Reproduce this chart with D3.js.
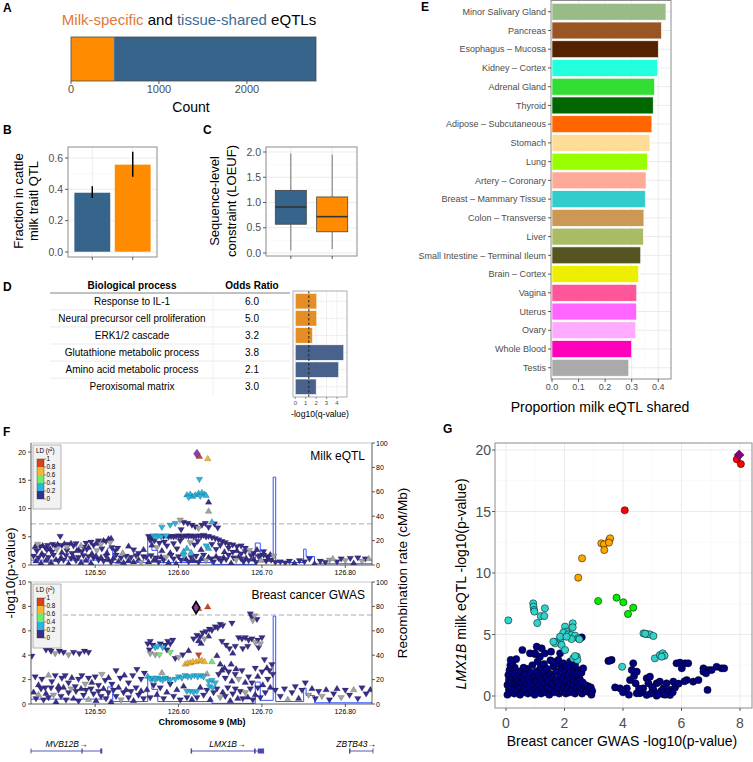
<!DOCTYPE html>
<html><head><meta charset="utf-8">
<script src="https://cdn.jsdelivr.net/npm/d3@7/dist/d3.min.js"></script>
<style>
html,body{margin:0;padding:0;background:#fff;}
svg{display:block;font-family:"Liberation Sans",Arial,Helvetica,sans-serif;}
</style></head><body>
<svg id="chart" width="753" height="762"></svg>
<script>
// ---------------- DATA ----------------
// A
const aGroups = ["Milk-specific", "tissue-shared"];
const aCounts = [490, 2295];
const aTicks = [0, 1000, 2000];
// B
const bGroups = ["tissue-shared", "Milk-specific"];
const bFraction = [0.38, 0.56];
const bLow = [0.345, 0.48];
const bHigh = [0.42, 0.64];
const bTicks = [0, 0.2, 0.4, 0.6];
// C (boxplot stats)
const cGroups = ["tissue-shared", "Milk-specific"];
const cMin = [0.05, 0.08];
const cQ1 = [0.57, 0.42];
const cMedian = [0.91, 0.72];
const cQ3 = [1.24, 1.11];
const cMax = [1.97, 1.95];
const cTicks = [0, 0.5, 1.0, 1.5, 2.0];
// D
const dProcesses = ["Response to IL-1", "Neural precursor cell proliferation", "ERK1/2 cascade",
  "Glutathione metabolic process", "Amino acid metabolic process", "Peroxisomal matrix"];
const dOddsRatio = ["6.0", "5.0", "3.2", "3.8", "2.1", "3.0"];
const dLogQ = [2.06, 2.06, 1.65, 4.65, 4.16, 2.0];
const dGroup = ["Milk-specific", "Milk-specific", "Milk-specific", "tissue-shared", "tissue-shared", "tissue-shared"];
const dThreshold = 1.3;
const dTicks = [0, 1, 2, 3, 4];
// E
const eTissues = ["Minor Salivary Gland", "Pancreas", "Esophagus – Mucosa", "Kidney – Cortex", "Adrenal Gland",
  "Thyroid", "Adipose – Subcutaneous", "Stomach", "Lung", "Artery – Coronary", "Breast – Mammary Tissue",
  "Colon – Transverse", "Liver", "Small Intestine – Terminal Ileum", "Brain – Cortex", "Vagina", "Uterus",
  "Ovary", "Whole Blood", "Testis"];
const eShared = [0.429, 0.412, 0.400, 0.398, 0.386, 0.381, 0.376, 0.369, 0.359, 0.354, 0.351, 0.346, 0.344,
  0.334, 0.326, 0.319, 0.318, 0.315, 0.300, 0.289];
const eTicks = [0, 0.1, 0.2, 0.3, 0.4];
const eTissueColors = ["#99BB88", "#995522", "#552200", "#22FFDD", "#33DD33", "#006600", "#FF6600", "#FFDD99",
  "#99FF00", "#FFAA99", "#33CCCC", "#CC9955", "#AABB66", "#555522", "#EEEE00", "#FF5599", "#FF66FF", "#FFAAFF",
  "#FF00BB", "#AAAAAA"];
// F  ([position Mb, -log10 p, LD class (0..4, 9 = no LD, 5 = lead), direction])
const fXTicks = [126.5, 126.6, 126.7, 126.8];
const fDomain = [126.423, 126.832];
const gwsThreshold = 7.3;
const ldBreaks = ["1", "0.8", "0.6", "0.4", "0.2", "0"];
const eqtlSnps = [
[126.622,19.7,5,0],[126.625,19.3,4,1],[126.635,18.9,3,1],[126.625,15.1,1,-1],
[126.610,12.5,1,1],[126.614,12.6,1,1],[126.617,12.2,1,1],[126.620,12.5,1,1],[126.624,12.8,1,1],[126.628,12.9,1,1],[126.631,12.6,1,1],[126.633,12.4,1,1],[126.612,11.9,1,-1],[126.626,12.1,1,-1],
[126.636,11.2,0,1],[126.636,9.6,9,1],
[126.580,6.6,1,-1],[126.590,7.0,1,-1],[126.596,7.3,1,-1],[126.602,7.9,9,-1],[126.606,7.5,0,-1],[126.611,7.3,0,-1],[126.616,7.0,0,-1],[126.620,6.7,0,-1],[126.624,6.4,9,-1],[126.628,7.0,0,-1],[126.632,7.3,0,-1],[126.636,6.6,0,-1],[126.640,7.7,1,1],[126.643,7.2,0,-1],[126.647,6.5,0,-1],[126.603,6.2,0,-1],
[126.564,5.0,0,-1],[126.567,4.8,0,-1],[126.570,5.1,1,-1],[126.573,4.9,1,-1],[126.576,5.1,1,-1],[126.579,4.9,1,-1],[126.582,5.0,0,-1],[126.585,5.1,1,-1],[126.588,4.9,0,-1],[126.591,5.0,0,-1],[126.594,4.9,0,-1],[126.597,5.0,0,-1],[126.600,5.1,0,-1],[126.603,4.9,0,-1],[126.606,5.0,0,-1],[126.609,5.1,0,-1],[126.612,5.0,0,-1],[126.615,5.1,0,-1],[126.618,4.9,0,-1],[126.621,5.0,0,-1],[126.624,5.1,0,-1],[126.627,5.0,0,-1],[126.630,5.2,0,-1],[126.633,4.9,0,-1],[126.636,5.0,0,-1],[126.640,4.8,0,-1],[126.644,4.6,0,-1],[126.648,4.4,0,-1],[126.652,4.1,0,-1],[126.656,3.9,0,-1],[126.660,3.6,0,-1],[126.665,3.5,0,-1],[126.670,3.2,0,-1],[126.675,3.3,0,-1],[126.680,2.9,0,-1],
[126.566,4.3,0,-1],[126.568,3.6,0,1],[126.571,4.2,0,-1],[126.574,3.0,9,-1],[126.577,3.8,0,-1],[126.580,2.6,0,1],[126.583,4.0,0,-1],[126.586,3.3,0,-1],[126.590,2.2,0,1],[126.594,3.7,0,-1],[126.598,2.8,0,-1],[126.602,4.2,0,-1],[126.606,2.5,1,1],[126.610,3.0,1,1],[126.614,3.9,9,-1],[126.615,2.3,1,1],[126.619,3.5,0,-1],[126.623,4.1,0,-1],[126.627,2.8,0,1],[126.633,3.3,1,-1],[126.636,3.0,1,1],[126.640,3.6,0,-1],[126.645,2.7,0,-1],[126.650,3.4,0,-1],[126.655,2.4,0,1],[126.660,2.9,0,-1],[126.665,2.2,0,-1],[126.670,2.6,0,1],[126.675,1.9,0,-1],[126.680,2.3,0,-1],[126.685,2.5,9,-1],[126.690,2.0,0,-1],[126.694,2.8,0,1],[126.698,1.6,0,-1],[126.702,2.3,0,-1],[126.706,1.4,0,-1],[126.710,1.9,0,1],
[126.428,3.3,0,1],[126.431,3.6,9,-1],[126.434,3.2,0,-1],[126.437,3.5,0,1],[126.440,3.0,0,-1],[126.443,3.4,0,-1],[126.446,2.9,0,1],[126.449,3.6,0,-1],[126.452,3.3,0,-1],[126.455,3.7,0,1],[126.458,5.0,0,-1],[126.460,3.4,0,-1],[126.463,3.8,0,1],[126.466,3.1,9,-1],[126.468,3.6,0,-1],[126.471,3.9,0,1],[126.474,3.3,0,-1],[126.477,3.7,0,-1],[126.480,2.8,0,1],[126.483,3.5,9,1],[126.486,3.1,0,-1],[126.489,3.8,0,-1],[126.492,3.2,0,1],[126.495,4.0,0,-1],[126.498,3.4,0,-1],[126.501,3.9,0,1],[126.504,4.2,0,-1],[126.507,3.6,9,-1],[126.510,4.4,0,1],[126.513,4.1,0,-1],[126.516,4.7,0,1],[126.519,4.8,0,1],[126.518,3.9,9,-1],
[126.430,2.4,0,-1],[126.436,2.1,0,1],[126.442,2.6,0,-1],[126.448,2.2,0,-1],[126.454,2.7,9,-1],[126.460,2.3,0,1],[126.466,2.5,0,-1],[126.472,2.0,0,-1],[126.478,2.6,0,1],[126.484,2.3,0,-1],[126.490,2.7,0,-1],[126.496,2.1,0,1],[126.502,2.5,9,-1],[126.508,2.8,0,-1],[126.514,2.2,0,1],[126.520,3.0,0,-1],[126.524,2.5,0,-1],
[126.527,2.9,0,-1],[126.533,2.2,9,1],[126.540,3.4,0,1],[126.546,2.6,0,-1],[126.552,2.0,0,-1],[126.558,2.8,0,1],
[126.426,1.5,0,-1],[126.429,0.8,0,1],[126.432,1.2,0,-1],[126.435,0.4,0,1],[126.438,1.6,0,-1],[126.441,0.9,0,1],[126.444,1.3,0,-1],[126.447,0.5,0,1],[126.450,1.7,0,-1],[126.453,1.0,0,1],[126.456,0.6,0,-1],[126.459,1.4,0,1],[126.462,0.8,0,-1],[126.465,1.6,0,-1],[126.468,0.3,0,1],[126.471,1.1,0,-1],[126.474,1.5,0,1],[126.477,0.7,0,-1],[126.480,1.3,0,-1],[126.483,0.5,0,1],[126.486,1.6,0,-1],[126.489,0.9,0,1],[126.492,1.4,0,-1],[126.495,0.4,0,1],[126.498,1.2,0,-1],[126.501,1.7,0,1],[126.504,0.8,0,-1],[126.507,1.4,0,1],[126.510,0.6,0,-1],[126.513,1.5,0,-1],[126.516,1.0,0,1],[126.519,0.4,0,-1],[126.522,1.3,0,1],[126.525,1.7,0,-1],[126.528,0.7,0,1],[126.531,1.2,0,-1],[126.534,0.5,0,1],[126.537,1.5,0,-1],[126.540,0.9,0,1],[126.543,1.3,0,-1],[126.546,0.6,0,1],[126.549,1.6,0,-1],[126.552,1.0,0,1],[126.555,0.4,9,-1],[126.558,1.4,0,-1],
[126.561,1.3,0,-1],[126.564,0.6,0,1],[126.567,1.6,0,-1],[126.570,0.9,0,1],[126.573,1.2,0,-1],[126.576,0.4,0,-1],[126.579,1.5,0,1],[126.582,0.8,0,-1],[126.585,1.3,9,-1],[126.588,0.5,0,1],[126.591,1.7,0,-1],[126.594,1.0,0,-1],[126.597,0.3,0,1],[126.600,1.4,0,-1],[126.603,0.8,0,-1],[126.606,1.6,1,-1],[126.609,1.1,0,1],[126.612,0.5,0,-1],[126.615,1.3,0,-1],[126.618,0.9,0,1],[126.621,1.5,0,-1],[126.624,0.4,0,-1],[126.627,1.2,0,1],[126.630,1.7,0,-1],[126.633,0.7,9,-1],[126.636,1.4,0,1],[126.639,1.0,0,-1],[126.642,0.5,0,-1],[126.645,1.6,0,1],[126.648,1.1,0,-1],[126.651,0.6,0,-1],[126.654,1.4,0,1],[126.657,0.9,0,-1],[126.660,1.7,0,-1],[126.663,0.4,0,1],[126.666,1.2,0,-1],[126.669,0.8,9,-1],[126.672,1.5,0,1],[126.675,1.0,0,-1],[126.678,0.5,0,-1],[126.681,1.3,0,1],[126.684,0.7,0,-1],[126.687,1.6,0,-1],[126.690,1.1,0,1],[126.693,0.4,0,-1],[126.696,1.4,0,-1],[126.699,0.9,9,1],[126.702,1.7,0,-1],[126.705,0.6,0,-1],[126.708,1.2,0,1],[126.711,0.8,0,-1],[126.714,1.5,9,-1],[126.716,0.4,0,-1],
[126.722,0.5,0,-1],[126.728,0.3,0,-1],[126.733,0.6,0,-1],[126.739,0.4,0,1],[126.745,0.7,0,-1],[126.751,0.5,0,-1],[126.757,1.0,0,-1],[126.763,0.3,0,1],[126.770,0.6,0,-1],[126.776,0.4,0,-1],[126.781,0.8,9,-1],[126.785,1.2,9,1],[126.790,0.5,0,-1],[126.795,1.0,0,-1],[126.800,0.7,9,-1],[126.806,1.1,0,-1],[126.810,0.4,0,1],[126.815,1.2,0,-1],[126.820,0.6,9,-1],[126.824,1.0,0,-1],[126.828,1.2,9,1]
];
const gwasSnps = [
[126.621,7.9,5,0],[126.624,7.85,4,1],[126.635,8.0,4,1],
[126.686,7.35,0,-1],[126.688,7.1,0,-1],[126.691,7.2,9,-1],[126.689,6.8,9,-1],[126.694,6.9,0,-1],[126.664,6.6,0,-1],
[126.618,5.3,0,-1],[126.622,5.6,0,-1],[126.626,5.5,0,-1],[126.629,5.8,0,-1],[126.633,5.9,0,-1],[126.637,6.1,0,-1],[126.640,6.0,0,-1],[126.644,6.3,0,-1],[126.647,6.2,0,-1],[126.650,6.5,0,-1],[126.653,6.4,0,-1],[126.631,5.3,9,-1],[126.627,5.0,0,1],[126.636,5.6,0,1],[126.624,5.2,0,1],
[126.652,5.1,0,-1],[126.657,4.8,0,-1],[126.661,4.5,0,-1],[126.665,4.2,0,1],[126.668,4.7,0,-1],[126.672,5.4,0,-1],[126.676,5.3,0,-1],[126.680,5.4,0,-1],[126.684,5.2,0,-1],[126.688,5.3,0,-1],[126.692,5.0,9,-1],[126.695,5.2,0,-1],[126.698,4.9,9,-1],[126.700,5.4,0,-1],[126.677,4.5,0,-1],[126.683,4.7,0,-1],[126.696,4.6,0,-1],
[126.563,4.9,0,-1],[126.566,5.1,0,-1],[126.569,4.8,0,-1],[126.572,4.6,1,-1],[126.575,4.7,1,-1],[126.578,4.9,0,-1],[126.581,4.6,1,-1],[126.584,4.8,0,-1],[126.587,5.1,0,-1],[126.590,4.9,0,-1],[126.593,5.2,0,-1],[126.565,4.4,0,-1],[126.586,4.4,0,-1],
[126.566,4.1,9,-1],[126.572,4.0,9,-1],[126.577,4.0,2,-1],[126.590,4.2,2,-1],[126.600,3.8,9,-1],[126.605,4.0,0,-1],[126.612,4.4,0,1],[126.596,3.7,0,-1],[126.624,4.0,4,-1],[126.640,3.5,2,1],[126.646,4.0,0,1],[126.650,3.3,0,1],
[126.608,3.3,3,1],[126.611,3.4,3,1],[126.614,3.4,3,1],[126.617,3.5,3,1],[126.621,3.5,3,1],[126.625,3.6,3,1],[126.628,3.6,3,1],[126.631,3.5,3,1],
[126.563,2.3,1,1],[126.566,2.0,1,-1],[126.569,2.1,1,-1],[126.572,1.9,1,-1],[126.575,2.1,1,-1],[126.578,2.0,1,-1],[126.581,1.9,1,-1],[126.584,2.1,1,-1],[126.587,2.0,1,-1],[126.590,1.9,1,-1],[126.596,2.0,1,-1],[126.600,2.2,1,-1],[126.604,2.1,1,-1],[126.608,2.3,1,-1],[126.611,2.2,1,-1],[126.615,2.2,1,-1],[126.619,2.3,1,-1],[126.623,2.2,1,-1],[126.627,2.3,1,-1],[126.630,2.2,1,-1],[126.636,1.8,1,-1],[126.640,1.9,1,-1],[126.644,1.7,1,-1],[126.637,1.4,1,-1],[126.641,1.3,1,-1],[126.610,1.0,1,-1],[126.614,1.0,1,-1],[126.618,0.9,1,-1],[126.622,1.0,1,-1],[126.580,2.6,9,1],[126.634,2.5,9,1],
[126.424,3.9,0,-1],[126.441,4.4,0,-1],[126.446,4.5,0,-1],[126.447,4.3,0,-1],[126.452,4.1,9,-1],[126.457,4.3,0,-1],[126.462,4.2,0,-1],[126.468,4.0,9,-1],[126.474,4.2,0,-1],[126.481,4.1,0,-1],[126.487,4.3,0,-1],[126.492,4.2,0,-1],
[126.428,2.2,0,-1],[126.432,1.6,0,1],[126.436,2.0,0,-1],[126.440,1.3,0,-1],[126.444,2.4,9,1],[126.448,1.8,0,-1],[126.452,2.3,0,-1],[126.456,1.5,0,1],[126.460,2.1,0,-1],[126.464,2.3,0,-1],[126.468,1.7,0,-1],[126.472,2.2,0,1],[126.476,1.4,0,-1],[126.480,2.0,0,-1],[126.484,2.3,0,-1],[126.488,1.6,9,-1],[126.492,2.1,0,-1],[126.496,1.8,0,1],[126.500,2.2,0,-1],[126.504,1.5,0,-1],[126.508,2.4,9,-1],[126.512,1.9,0,-1],[126.516,2.2,0,1],[126.520,1.6,0,-1],[126.525,2.7,0,-1],[126.530,2.1,0,-1],[126.535,2.4,0,1],[126.540,1.7,0,-1],[126.545,2.3,0,-1],[126.550,2.8,0,-1],[126.555,2.0,0,-1],[126.559,2.5,0,-1],
[126.426,1.0,0,1],[126.429,0.4,0,-1],[126.432,0.8,9,1],[126.435,1.2,0,-1],[126.438,0.3,0,-1],[126.441,0.9,0,1],[126.444,0.5,0,-1],[126.447,1.3,0,-1],[126.450,0.7,9,-1],[126.453,0.2,0,1],[126.456,1.1,0,-1],[126.459,0.6,0,-1],[126.462,1.4,0,1],[126.465,0.3,0,-1],[126.468,0.9,0,-1],[126.471,1.2,9,-1],[126.474,0.5,0,1],[126.477,1.0,0,-1],[126.480,0.2,0,-1],[126.483,1.3,0,1],[126.486,0.7,0,-1],[126.489,1.1,0,-1],[126.492,0.4,9,1],[126.495,1.2,0,-1],[126.498,0.8,0,-1],[126.501,0.3,0,1],[126.504,1.0,0,-1],[126.507,0.6,0,-1],[126.510,1.3,0,1],[126.513,0.4,0,-1],[126.516,0.9,0,-1],[126.519,0.2,0,1],[126.522,1.1,0,-1],[126.525,0.6,0,-1],[126.528,1.4,0,1],[126.531,0.3,9,-1],[126.534,0.9,0,-1],[126.537,1.2,0,1],[126.540,0.5,0,-1],[126.543,1.0,0,-1],[126.546,0.3,0,1],[126.549,1.3,0,-1],[126.552,0.7,0,-1],[126.555,1.1,0,1],[126.558,0.4,0,-1],
[126.562,1.2,0,1],[126.566,0.5,0,-1],[126.570,1.5,0,-1],[126.574,0.8,0,1],[126.578,1.3,0,-1],[126.582,0.4,0,-1],[126.586,1.0,0,1],[126.590,1.6,0,-1],[126.594,0.6,0,-1],[126.598,1.2,0,1],[126.602,0.3,0,-1],[126.606,1.5,0,1],[126.610,0.5,0,-1],[126.616,0.4,0,1],[126.622,0.5,0,-1],[126.626,1.4,0,1],[126.630,0.7,0,-1],[126.634,1.1,0,-1],[126.638,0.4,0,1],[126.642,0.9,0,-1],[126.646,1.2,0,-1],[126.650,0.5,9,-1],[126.653,1.0,0,1],[126.656,0.6,0,-1],[126.659,1.3,0,-1],[126.662,0.3,0,1],[126.665,0.8,0,-1],[126.668,1.2,0,-1],[126.671,0.5,0,1],[126.674,1.0,0,-1],[126.677,0.4,0,-1],[126.680,0.9,9,-1],[126.683,0.6,0,1],[126.686,1.2,0,-1],[126.689,0.3,0,-1],[126.692,0.8,0,1],[126.695,1.3,0,-1],[126.698,0.5,0,-1],[126.701,1.6,0,1],[126.704,0.9,0,-1],[126.707,2.0,0,-1],[126.710,1.4,0,1],[126.713,2.4,0,-1],[126.716,1.1,0,-1],[126.703,3.6,0,-1],[126.706,3.0,0,1],[126.709,2.7,0,-1],[126.712,3.2,0,-1],[126.700,2.6,0,-1],[126.695,2.3,0,1],
[126.648,2.4,0,-1],[126.652,2.8,0,1],[126.656,2.1,0,-1],[126.660,2.6,0,-1],[126.664,1.9,0,1],[126.668,2.4,0,-1],[126.672,2.0,9,-1],[126.676,2.7,0,-1],[126.680,1.8,0,1],[126.684,2.2,0,-1],[126.688,1.7,0,-1],[126.692,2.9,0,-1],[126.655,3.0,0,1],[126.663,3.3,0,1],[126.669,2.9,0,1],
[126.722,0.6,0,-1],[126.727,1.2,0,-1],[126.731,0.4,9,1],[126.736,0.9,0,-1],[126.740,1.4,0,-1],[126.744,0.5,0,1],[126.748,1.1,0,-1],[126.752,1.7,0,-1],[126.756,0.7,9,-1],[126.760,1.3,0,1],[126.764,0.4,0,-1],[126.768,1.0,0,-1],[126.772,0.6,9,-1],[126.777,1.2,0,1],[126.781,0.3,0,-1],[126.786,0.8,0,-1],[126.790,1.3,0,1],[126.795,0.5,9,-1],[126.800,1.1,0,-1],[126.805,0.7,0,-1],[126.810,1.2,9,1],[126.815,0.4,0,-1],[126.820,1.3,0,-1],[126.825,0.8,0,-1],[126.830,1.2,0,1]
];
const recombRate = [[126.423,4],[126.515,14],[126.521,2],[126.563,22],[126.568,12],[126.575,2],[126.640,0.5],
  [126.692,18],[126.698,3],[126.7135,72],[126.7165,2],[126.750,13],[126.753,7],[126.763,1],[126.832,1]];
const genes = [
  {name: "MVB12B", start: 126.423, end: 126.508, exons: [[126.4835, 126.4850], [126.5060, 126.5080]]},
  {name: "LMX1B", start: 126.615, end: 126.702, exons: [[126.6150, 126.6156], [126.6905, 126.6925], [126.6950, 126.7020]]},
  {name: "ZBTB43", start: 126.805, end: 126.834, exons: [[126.8050, 126.8056]]}
];
// G  ([breast cancer GWAS -log10 p, milk eQTL -log10 p])
const gXTicks = [0, 2, 4, 6, 8];
const gYTicks = [0, 5, 10, 15, 20];
const gLead = [[7.97, 19.6]];
const gRed = [[7.89, 19.24], [8.03, 18.86], [4.06, 15.1]];
const gOrange = [[3.26, 12.41], [3.35, 12.33], [3.53, 12.68], [3.56, 12.82], [3.52, 12.47], [3.36, 11.87], [2.60, 11.19], [2.47, 9.62]];
const gGreen = [[3.15, 7.72], [3.78, 7.99], [4.01, 7.62], [4.17, 6.67], [4.35, 7.18]];
const gCyan = [[0.08, 6.15], [0.93, 7.53], [0.94, 7.26], [0.96, 6.99], [0.97, 6.86], [1.33, 7.13], [1.19, 6.50], [1.31, 6.50], [1.07, 5.93],
  [2.02, 5.64], [2.28, 5.91], [2.28, 5.58], [2.07, 5.23], [1.96, 5.15], [2.13, 5.01], [2.24, 4.96], [2.36, 4.91], [2.47, 4.69], [2.24, 4.63],
  [1.85, 4.55], [1.73, 4.42], [1.68, 4.28], [1.90, 4.15], [2.02, 3.74], [1.62, 4.42], [1.85, 4.82], [2.07, 4.82], [2.51, 4.61],
  [2.30, 3.06], [2.42, 3.20], [2.44, 2.93], [2.36, 3.25], [4.70, 5.09], [4.81, 5.04], [4.92, 5.01], [5.04, 4.88], [4.76, 5.06],
  [5.09, 3.06], [5.26, 3.33], [5.36, 3.47], [5.42, 3.28], [5.32, 3.20], [3.97, 2.38]];
const gNavy = [[0.05,0.1],[0.1,0.5],[0.05,0.9],[0.1,1.3],[0.08,1.7],[0.12,2.1],[0.15,0.3],[0.2,0.8],[0.18,1.1],[0.22,1.5],[0.25,1.9],[0.28,0.2],[0.3,0.6],[0.32,1.0],[0.35,1.4],[0.3,2.3],[0.38,0.4],[0.42,0.9],[0.4,1.2],[0.45,1.7],[0.48,0.1],[0.5,0.7],[0.52,1.1],[0.55,1.5],[0.5,2.0],[0.58,0.3],[0.6,0.8],[0.62,1.3],[0.65,1.8],[0.68,0.5],[0.7,1.0],[0.72,2.2],[0.75,0.2],[0.78,1.4],[0.8,0.6],[0.82,1.1],[0.85,1.9],[0.88,0.3],[0.9,2.5],[0.92,0.9],[0.95,1.5],[0.98,0.1],[1.0,0.6],[1.02,1.2],[1.05,2.0],[1.08,2.8],[1.1,0.4],[1.12,1.6],[1.15,0.9],[1.18,2.3],[1.2,0.2],[1.22,1.3],[1.25,0.6],[1.28,1.9],[1.3,2.6],[1.32,1.0],[1.35,0.3],[1.38,1.5],[1.4,2.2],[1.42,0.7],[1.45,1.2],[1.48,0.1],[1.5,1.8],[1.52,2.9],[1.55,0.5],[1.58,1.0],[1.6,1.5],[1.62,2.4],[1.65,0.3],[1.68,0.8],[1.7,1.3],[1.72,2.0],[1.75,0.6],[1.78,1.1],[1.8,2.6],[1.82,0.2],[1.85,1.6],[1.88,0.9],[1.9,2.2],[1.92,0.4],[1.95,1.4],[1.98,0.7],[2.0,1.9],[2.02,2.5],[2.05,0.2],[2.08,1.2],[2.1,0.6],[2.12,1.7],[2.15,2.3],[2.18,0.3],[2.2,1.0],[2.22,1.5],[2.25,0.5],[2.28,2.0],[2.3,0.9],[2.33,1.3],[2.36,0.2],[2.4,1.7],[2.42,0.6],[2.45,1.1],[2.48,2.1],[2.5,0.4],[2.52,1.4],[2.55,0.8],[2.58,1.9],[2.6,0.2],[2.62,1.1],[2.65,0.6],[2.7,0.9],[2.75,0.4],[2.8,0.8],[2.85,0.3],[2.9,0.7],[2.95,0.4],[2.92,0.1],[0.15,2.5],[0.22,2.7],[0.6,2.3],[1.0,3.4],[0.35,3.0],
[0.16,2.93],[0.56,3.74],[1.05,4.01],[1.22,3.88],[0.99,3.47],[1.33,3.47],[1.54,3.60],[1.85,3.47],[1.16,3.20],[0.82,3.47],[1.60,2.79],[1.79,2.93],[1.96,2.66],[2.19,2.79],[2.07,2.38],[2.36,2.52],[2.59,4.77],[2.42,1.84],[2.64,2.25],
[3.50,2.85],[3.61,2.93],[3.55,2.88],[3.73,0.70],[3.90,0.62],[4.13,0.62],[4.24,1.30],[4.38,1.63],[4.43,1.03],[4.35,2.66],[4.30,2.11],[4.47,1.98],[4.58,0.22],[4.69,0.62],[4.81,1.44],[4.92,1.57],[4.87,1.03],[5.04,0.49],[5.15,1.03],[5.26,1.17],[5.38,0.62],[5.49,1.03],[5.61,0.49],[5.72,1.17],[5.83,2.66],[5.95,2.71],[6.01,2.25],[6.12,2.66],[6.23,2.66],[6.18,1.30],[6.40,1.17],[6.58,1.30],[6.75,2.25],[6.92,2.11],[6.89,0.49],[7.03,2.11],[7.20,2.38],[7.37,2.25],[7.46,2.25],[6.75,1.98],[6.84,1.84],[4.47,0.22],[4.81,0.08],[5.15,0.03],[5.38,0.14],[5.61,0.08],[5.55,0.35],[5.78,0.70],[4.0,0.3],[4.2,0.1],[4.65,0.35],[4.95,0.2],[5.3,0.4],[5.45,0.1],[5.7,0.3],[5.9,1.0],[6.1,1.2],[4.55,0.6],[5.0,0.7],[5.2,0.15]];

// ---------------- DRAWING ----------------
const svg = d3.select("#chart");
const TXT = "#4d4d4d", GMAJ = "#ebebeb", GMIN = "#f5f5f5", BORDER = "#8c8c8c";
const colMilk = "#FF8C00", colShared = "#36648B";

function txt(p, x, y, s, size, o = {}) {
  const t = p.append("text").attr("x", x).attr("y", y).attr("font-size", size).text(s);
  if (o.anchor) t.attr("text-anchor", o.anchor);
  t.attr("fill", o.fill || "#000");
  if (o.weight) t.attr("font-weight", o.weight);
  if (o.style) t.attr("font-style", o.style);
  return t;
}
function rtxt(p, cx, cy, s, size, o = {}) {
  return p.append("text").attr("transform", `translate(${cx},${cy}) rotate(-90)`).attr("text-anchor", "middle")
    .attr("font-size", size).attr("fill", o.fill || "#000").text(s);
}
function hl(p, x1, x2, y, c, w, dash) {
  const l = p.append("line").attr("x1", x1).attr("x2", x2).attr("y1", y).attr("y2", y).attr("stroke", c).attr("stroke-width", w);
  if (dash) l.attr("stroke-dasharray", dash);
  return l;
}
function vl(p, x, y1, y2, c, w, dash) {
  const l = p.append("line").attr("x1", x).attr("x2", x).attr("y1", y1).attr("y2", y2).attr("stroke", c).attr("stroke-width", w);
  if (dash) l.attr("stroke-dasharray", dash);
  return l;
}
function border(p, x0, y0, x1, y1, c = BORDER, w = 1) {
  p.append("rect").attr("x", x0).attr("y", y0).attr("width", x1 - x0).attr("height", y1 - y0)
    .attr("fill", "none").attr("stroke", c).attr("stroke-width", w);
}
function panelLabel(s, x, y) { txt(svg, x, y, s, 12, {weight: "bold"}); }

panelLabel("A", 3, 12); panelLabel("B", 3, 134); panelLabel("C", 203, 134);
panelLabel("D", 3, 291); panelLabel("E", 421, 11); panelLabel("F", 3, 436); panelLabel("G", 443, 433);

// ---- A ----
{
  const g = svg.append("g");
  const x = d3.scaleLinear().domain([0, 2785]).range([71, 316]);
  const t = g.append("text").attr("x", 189).attr("y", 25).attr("text-anchor", "middle").attr("font-size", 15);
  t.append("tspan").attr("fill", "#E07838").text("Milk-specific");
  t.append("tspan").attr("fill", "#000").text(" and ");
  t.append("tspan").attr("fill", "#3B6996").text("tissue-shared");
  t.append("tspan").attr("fill", "#000").text(" eQTLs");
  let cum = 0;
  aGroups.forEach((gr, i) => {
    g.append("rect").attr("x", x(cum)).attr("y", 37).attr("width", x(cum + aCounts[i]) - x(cum)).attr("height", 44)
      .attr("fill", i === 0 ? colMilk : colShared);
    cum += aCounts[i];
  });
  border(g, x(0), 37, x(cum), 81, "#4a4a4a", 0.8);
  aTicks.forEach(v => { vl(g, x(v), 81, 84, "#333", 0.8); txt(g, x(v), 93, d3.format("d")(v), 11, {anchor: "middle", fill: TXT}); });
  txt(g, 191, 112, "Count", 14, {anchor: "middle"});
}

// ---- B ----
{
  const g = svg.append("g");
  const X0 = 68, X1 = 157, Y0 = 147, Y1 = 257;
  const x = d3.scaleBand().domain(bGroups).range([X0, X1]).paddingInner(0.1).paddingOuter(0.15);
  const y = d3.scaleLinear().domain([0, 0.6]).range([252, 158]);
  [0.1, 0.3, 0.5].forEach(v => hl(g, X0, X1, y(v), GMIN, 0.6));
  bTicks.forEach(v => hl(g, X0, X1, y(v), GMAJ, 1));
  bGroups.forEach(gr => vl(g, x(gr) + x.bandwidth() / 2, Y0, Y1, GMAJ, 1));
  bGroups.forEach((gr, i) => {
    g.append("rect").attr("x", x(gr)).attr("y", y(bFraction[i])).attr("width", x.bandwidth())
      .attr("height", y(0) - y(bFraction[i])).attr("fill", i === 0 ? colShared : colMilk).attr("stroke", "#fff").attr("stroke-width", 0.5);
    vl(g, x(gr) + x.bandwidth() / 2, y(bHigh[i]), y(bLow[i]), "#000", 1.5);
  });
  border(g, X0, Y0, X1, Y1);
  bTicks.forEach(v => { hl(g, X0 - 3, X0, y(v), "#333", 0.8); txt(g, X0 - 5, y(v) + 3.7, d3.format(".1f")(v), 10.5, {anchor: "end", fill: TXT}); });
  bGroups.forEach(gr => vl(g, x(gr) + x.bandwidth() / 2, Y1, Y1 + 3, "#333", 0.8));
  rtxt(g, 22.5, 201, "Fraction in cattle", 13);
  rtxt(g, 37.5, 201, "milk traitl QTL", 13);
}

// ---- C ----
{
  const g = svg.append("g");
  const X0 = 266, X1 = 357, Y0 = 147, Y1 = 256;
  const x = d3.scaleBand().domain(cGroups).range([X0, X1]).paddingInner(0.1).paddingOuter(0.15);
  const y = d3.scaleLinear().domain([0, 2]).range([253, 152]);
  [0.25, 0.75, 1.25, 1.75].forEach(v => hl(g, X0, X1, y(v), GMIN, 0.6));
  cTicks.forEach(v => hl(g, X0, X1, y(v), GMAJ, 1));
  cGroups.forEach(gr => vl(g, x(gr) + x.bandwidth() / 2, Y0, Y1, GMAJ, 1));
  const step = x.step();
  cGroups.forEach((gr, i) => {
    const cx = x(gr) + x.bandwidth() / 2, w = step * 0.75;
    vl(g, cx, y(cMax[i]), y(cQ3[i]), "#555", 0.8);
    vl(g, cx, y(cQ1[i]), y(cMin[i]), "#555", 0.8);
    g.append("rect").attr("x", cx - w / 2).attr("y", y(cQ3[i])).attr("width", w).attr("height", y(cQ1[i]) - y(cQ3[i]))
      .attr("fill", i === 0 ? colShared : colMilk).attr("stroke", "#444").attr("stroke-width", 0.8);
    hl(g, cx - w / 2, cx + w / 2, y(cMedian[i]), "#333", 1.6);
  });
  border(g, X0, Y0, X1, Y1);
  cTicks.forEach(v => { hl(g, X0 - 3, X0, y(v), "#333", 0.8); txt(g, X0 - 5, y(v) + 3.7, d3.format(".1f")(v), 10.5, {anchor: "end", fill: TXT}); });
  cGroups.forEach(gr => vl(g, x(gr) + x.bandwidth() / 2, Y1, Y1 + 3, "#333", 0.8));
  rtxt(g, 218.5, 201, "Sequence-level", 13);
  rtxt(g, 235.5, 201, "constraint (LOEUF)", 13);
}

// ---- D ----
{
  const g = svg.append("g");
  const X0 = 293, X1 = 347, Y0 = 291, Y1 = 397;
  const yb = d3.scaleBand().domain(dProcesses).range([Y0, Y1]).paddingInner(0.1).paddingOuter(0.15);
  const x = d3.scaleLinear().domain([0, 4.65]).range([295.3, 343.7]);
  // table
  txt(g, 132, 289, "Biological process", 10, {anchor: "middle", weight: "bold"});
  txt(g, 252, 289, "Odds Ratio", 10, {anchor: "middle", weight: "bold"});
  hl(g, 50, 290, 293, "#666", 0.8);
  vl(g, 213, 294, 395, "#eeeeee", 0.8);
  dProcesses.forEach((p, i) => {
    const cy = yb(p) + yb.bandwidth() / 2;
    txt(g, 132, cy + 3.5, p, 10, {anchor: "middle"});
    txt(g, 252, cy + 3.5, dOddsRatio[i], 10, {anchor: "middle"});
    if (i > 0) hl(g, 50, 290, yb(p) - yb.step() * 0.05, "#e2e2e2", 0.7);
  });
  // bars
  [0.5, 1.5, 2.5, 3.5, 4.5].forEach(v => vl(g, x(v), Y0, Y1, GMIN, 0.5));
  dTicks.forEach(v => vl(g, x(v), Y0, Y1, GMAJ, 0.8));
  dProcesses.forEach(p => hl(g, X0, X1, yb(p) + yb.bandwidth() / 2, GMAJ, 0.8));
  dProcesses.forEach((p, i) => {
    g.append("rect").attr("x", x(0)).attr("y", yb(p)).attr("width", x(dLogQ[i]) - x(0)).attr("height", yb.bandwidth())
      .attr("fill", dGroup[i] === "Milk-specific" ? "#E58E26" : "#48628C").attr("stroke", "#fff").attr("stroke-width", 0.5);
  });
  vl(g, x(dThreshold), Y0, Y1, "#222", 1, "2.5,2");
  border(g, X0, Y0, X1, Y1, "#9a9a9a", 0.8);
  dTicks.forEach(v => { vl(g, x(v), Y1, Y1 + 2, "#555", 0.6); txt(g, x(v), Y1 + 7.5, String(v), 6, {anchor: "middle", fill: TXT}); });
  txt(g, 320, 417, "-log10(q-value)", 8.6, {anchor: "middle"});
}

// ---- E ----
{
  const g = svg.append("g");
  const X0 = 551, X1 = 671, Y0 = 0.5, Y1 = 379;
  const y = d3.scaleBand().domain(eTissues).range([Y0, Y1]).paddingInner(0.1).paddingOuter(0.15);
  const x = d3.scaleLinear().domain([0, 0.448]).range([552, X1]);
  const color = d3.scaleOrdinal().domain(eTissues).range(eTissueColors);
  [0.05, 0.15, 0.25, 0.35].forEach(v => vl(g, x(v), Y0, Y1, GMIN, 0.6));
  eTicks.forEach(v => vl(g, x(v), Y0, Y1, GMAJ, 1));
  eTissues.forEach(t => hl(g, X0, X1, y(t) + y.bandwidth() / 2, GMAJ, 1));
  eTissues.forEach((t, i) => {
    g.append("rect").attr("x", x(0)).attr("y", y(t)).attr("width", x(eShared[i]) - x(0)).attr("height", y.bandwidth())
      .attr("fill", color(t)).attr("stroke", "#fff").attr("stroke-width", 0.6);
  });
  border(g, X0, Y0, X1, Y1);
  eTissues.forEach(t => {
    const cy = y(t) + y.bandwidth() / 2;
    hl(g, X0 - 3, X0, cy, "#333", 0.8);
    txt(g, X0 - 5, cy + 3.2, t, 9, {anchor: "end", fill: TXT});
  });
  eTicks.forEach(v => { vl(g, x(v), Y1, Y1 + 3, "#333", 0.8); txt(g, x(v), 390, d3.format(".1f")(v), 9, {anchor: "middle", fill: TXT}); });
  txt(g, 600, 412, "Proportion milk eQTL shared", 14, {anchor: "middle"});
}

// ---- F ----
const LD_COLORS = ["#382e8c", "#28b6e0", "#69ee69", "#f6b72d", "#d9431b"];
const LD_GRAY = "#a3a3a3", LEAD_COLOR = "#8b3fa9";
const fx = d3.scaleLinear().domain(fDomain).range([31, 372]);
function drawLocus(Y0, Y1, yMax, yTicks, snps, title, leadBig) {
  const g = svg.append("g");
  const y = d3.scaleLinear().domain([0, yMax]).range([Y1, Y0]);
  const r = d3.scaleLinear().domain([0, 100]).range([Y1, Y0]);
  const id = "clip" + Y0;
  svg.append("clipPath").attr("id", id).append("rect").attr("x", 31).attr("y", Y0).attr("width", 341).attr("height", Y1 - Y0);
  const inner = g.append("g").attr("clip-path", `url(#${id})`);
  hl(inner, 31, 372, y(gwsThreshold), "#c8c8c8", 1.5, "5,3");
  inner.append("path").datum(recombRate)
    .attr("d", d3.line().x(d => fx(d[0])).y(d => r(d[1])).curve(d3.curveStepAfter))
    .attr("fill", "none").attr("stroke", "#3355ff").attr("stroke-width", 1);
  const order = c => (c === 9 ? 0.5 : c);
  const pts = snps.filter(d => d[2] !== 5).sort((a, b) => order(a[2]) - order(b[2]));
  const up = "M0,-3L3.3,2.5L-3.3,2.5Z", down = "M0,3L3.3,-2.5L-3.3,-2.5Z";
  inner.selectAll("path.snp").data(pts).enter().append("path").attr("class", "snp")
    .attr("transform", d => `translate(${fx(d[0])},${y(d[1])})`)
    .attr("d", d => d[3] > 0 ? up : down)
    .attr("fill", d => d[2] === 9 ? LD_GRAY : LD_COLORS[d[2]])
    .attr("stroke", "rgba(0,0,0,0.45)").attr("stroke-width", 0.4);
  snps.filter(d => d[2] === 5).forEach(d => {
    const p = leadBig ? "M0,-6L3.6,0L0,6L-3.6,0Z" : "M0,-4.5L3.2,0L0,4.5L-3.2,0Z";
    inner.append("path").attr("transform", `translate(${fx(d[0])},${y(d[1])})`).attr("d", p)
      .attr("fill", LEAD_COLOR).attr("stroke", leadBig ? "#000" : "#5a2a70").attr("stroke-width", leadBig ? 1.6 : 0.5);
  });
  // frame and axes
  hl(g, 31, 372, Y0, "#bbb", 0.8);
  hl(g, 31, 372, Y1, "#333", 0.8);
  vl(g, 31, Y0, Y1, "#333", 0.8);
  vl(g, 372, Y0, Y1, "#333", 0.8);
  yTicks.forEach(v => { hl(g, 28, 31, y(v), "#333", 0.8); txt(g, 26, y(v) + 2.5, String(v), 7, {anchor: "end"}); });
  [0, 20, 40, 60, 80, 100].forEach(v => { hl(g, 372, 375, r(v), "#333", 0.8); txt(g, 376, r(v) + 2.5, String(v), 7); });
  fXTicks.forEach(v => { vl(g, fx(v), Y1, Y1 + 3, "#333", 0.8); txt(g, fx(v), Y1 + 9.5, d3.format(".2f")(v), 7, {anchor: "middle"}); });
  txt(g, 365, Y0 + 17, title, 12, {anchor: "end"});
  // LD legend
  const lg = g.append("g");
  lg.append("rect").attr("x", 33).attr("y", Y0 + 2).attr("width", 28).attr("height", 64).attr("fill", "#f2f2f2").attr("stroke", "#888").attr("stroke-width", 0.6);
  const lt = lg.append("text").attr("x", 36).attr("y", Y0 + 10).attr("font-size", 6.3);
  lt.append("tspan").text("LD (r");
  lt.append("tspan").attr("font-size", 4.5).attr("dy", -2).text("2");
  lt.append("tspan").attr("dy", 2).text(")");
  const top = Y0 + 16, segH = 8;
  LD_COLORS.slice().reverse().forEach((c, i) => {
    lg.append("rect").attr("x", 37).attr("y", top + i * segH).attr("width", 7).attr("height", segH).attr("fill", c);
  });
  lg.append("rect").attr("x", 37).attr("y", top).attr("width", 7).attr("height", segH * 5).attr("fill", "none").attr("stroke", "#333").attr("stroke-width", 0.4);
  ldBreaks.forEach((b, i) => {
    hl(lg, 44, 46, top + i * segH, "#333", 0.5);
    txt(lg, 46.5, top + i * segH + 2.3, b, 6.3);
  });
}
drawLocus(443, 565, 21.6, [0, 5, 10, 15, 20], eqtlSnps, "Milk eQTL", false);
drawLocus(582, 704, 10, [0, 2, 4, 6, 8, 10], gwasSnps, "Breast cancer GWAS", true);
rtxt(svg, 15, 573, "-log10(p-value)", 13.5);
rtxt(svg, 407, 573, "Recombination rate (cM/Mb)", 13.5);
txt(svg, 202, 725, "Chromosome 9 (Mb)", 9, {anchor: "middle", weight: "bold"});
{
  const g = svg.append("g");
  const GC = "#4747b0", gy = 751;
  genes.forEach(gn => {
    const s = Math.max(fx(gn.start), 31), e = Math.min(fx(gn.end), 373);
    hl(g, s, e, gy, GC, 0.9);
    vl(g, s, gy - 2.5, gy + 2.5, GC, 0.9);
    vl(g, e, gy - 2.5, gy + 2.5, GC, 0.9);
    gn.exons.forEach(ex => {
      const a = fx(ex[0]), b = Math.min(fx(ex[1]), 373);
      g.append("rect").attr("x", a).attr("y", gy - 2.5).attr("width", Math.max(b - a, 1)).attr("height", 5).attr("fill", GC);
    });
    let cx = (s + e) / 2;
    const lbl = txt(g, cx, 747, gn.name + "→", 8.5, {anchor: "middle", style: "italic"});
    const w = lbl.node().getComputedTextLength();
    if (cx + w / 2 > 376) lbl.attr("x", 376 - w / 2);
  });
}

// ---- G ----
{
  const g = svg.append("g");
  const X0 = 495, X1 = 752, Y0 = 443, Y1 = 708;
  const x = d3.scaleLinear().domain([0, 8]).range([506, 740]);
  const y = d3.scaleLinear().domain([0, 20]).range([696, 450]);
  [1, 3, 5, 7].forEach(v => vl(g, x(v), Y0, Y1, GMIN, 0.6));
  [2.5, 7.5, 12.5, 17.5].forEach(v => hl(g, X0, X1, y(v), GMIN, 0.6));
  gXTicks.forEach(v => vl(g, x(v), Y0, Y1, GMAJ, 1));
  gYTicks.forEach(v => hl(g, X0, X1, y(v), GMAJ, 1));
  const groups = [[gNavy, "#000080"], [gCyan, "#2FD3CB"], [gGreen, "#00EE00"], [gOrange, "#FFA500"], [gRed, "#FF0000"]];
  groups.forEach(([arr, col]) => {
    g.append("g").selectAll("circle").data(arr).enter().append("circle")
      .attr("cx", d => x(d[0])).attr("cy", d => y(d[1])).attr("r", 3.6)
      .attr("fill", col).attr("stroke", "#000").attr("stroke-width", 0.5);
  });
  gLead.forEach(d => g.append("path").attr("transform", `translate(${x(d[0])},${y(d[1])})`)
    .attr("d", "M0,-5L5,0L0,5L-5,0Z").attr("fill", "#800080").attr("stroke", "#4a004a").attr("stroke-width", 0.5));
  border(g, X0, Y0, X1, Y1);
  gXTicks.forEach(v => { vl(g, x(v), Y1, Y1 + 3, "#333", 0.8); txt(g, x(v), 728, String(v), 14, {anchor: "middle", fill: TXT}); });
  gYTicks.forEach(v => { hl(g, X0 - 3, X0, y(v), "#333", 0.8); txt(g, 491, y(v) + 5, String(v), 14, {anchor: "end", fill: TXT}); });
  txt(g, 622, 746, "Breast cancer GWAS -log10(p-value)", 14, {anchor: "middle"});
  const t = g.append("text").attr("transform", "translate(466,584) rotate(-90)").attr("text-anchor", "middle").attr("font-size", 14);
  t.append("tspan").attr("font-style", "italic").text("LMX1B");
  t.append("tspan").text(" milk eQTL -log10(p-value)");
}
</script></body></html>
